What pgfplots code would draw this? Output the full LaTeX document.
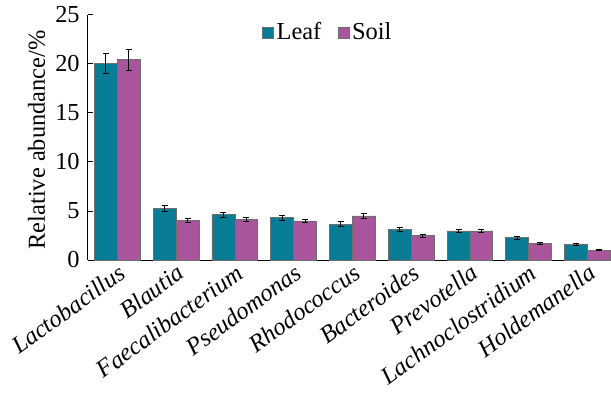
\documentclass[border=0pt]{standalone}
\usepackage{fontspec}
\setmainfont{Liberation Serif}
\usepackage{pgfplots}
\usepackage{pgfplotstable}
\pgfplotsset{compat=1.18}

\definecolor{leafc}{HTML}{087C94}
\definecolor{soilc}{HTML}{A9559E}
\definecolor{edgec}{HTML}{6E6E6E}

% genus index, mean relative abundance (%), standard error
\pgfplotstableread{
x   y      err
0   20.07  1.02
1   5.24   0.29
2   4.62   0.26
3   4.32   0.24
4   3.67   0.22
5   3.08   0.22
6   2.96   0.16
7   2.28   0.16
8   1.56   0.13
}\leafdata
\pgfplotstableread{
x   y      err
0   20.42  1.09
1   4.01   0.20
2   4.15   0.22
3   3.98   0.20
4   4.49   0.26
5   2.48   0.16
6   2.96   0.16
7   1.70   0.07
8   0.99   0.04
}\soildata

\begin{document}
\fontsize{24.5}{29}\rmfamily\selectfont
\begin{tikzpicture}
\useasboundingbox (-88bp,-134bp) rectangle (523bp,260bp);
\begin{axis}[
  at={(0,0)}, anchor=south west,
  scale only axis,
  width=523bp, height=245bp,
  xmin=-0.5, xmax=8.4,
  ymin=0, ymax=25,
  ytick={0,5,10,15,20,25},
  xtick={0,...,8},
  xticklabels={Lactobacillus,Blautia,Faecalibacterium,Pseudomonas,Rhodococcus,Bacteroides,Prevotella,Lachnoclostridium,Holdemanella},
  xticklabel style={rotate=36, anchor=north east, font=\rmfamily\itshape, inner sep=2bp},
  yticklabel style={font=\rmfamily},
  x tick style={draw=none},
  y tick style={black, line width=1bp},
  major tick length=5bp,
  tick align=inside,
  axis x line*=bottom,
  axis y line*=left,
  axis line style={black, line width=1bp},
  /pgf/number format/assume math mode=true,
  ylabel={Relative abundance/\%},
  ylabel style={at={(axis description cs:-0.0985,0.49)}, anchor=center, font=\rmfamily},
  clip=false,
  legend columns=2,
  legend style={at={(rel axis cs:0.333,0.927)}, anchor=west, draw=none, fill=none,
    inner sep=0pt, font=\rmfamily, nodes={inner xsep=2.5bp, inner ysep=0pt},
    /tikz/every even column/.append style={column sep=14bp}},
  legend image code/.code={\draw[#1, draw=edgec, line width=0.8bp] (0bp,-5.5bp) rectangle (11bp,5.5bp);},
  error bars/y dir=both,
  error bars/y explicit,
  error bars/error bar style={black, line width=1bp},
  error bars/error mark options={rotate=90, mark size=3bp, line width=1bp, black},
]
\addplot[ybar, bar width=0.39, bar shift=0pt, fill=leafc, draw=edgec, line width=0.8bp]
  table[x expr=\thisrow{x}-0.195, y=y, y error=err] {\leafdata};
\addlegendentry{Leaf}
\addplot[ybar, bar width=0.39, bar shift=0pt, fill=soilc, draw=edgec, line width=0.8bp]
  table[x expr=\thisrow{x}+0.195, y=y, y error=err] {\soildata};
\addlegendentry{Soil}
\end{axis}
\end{tikzpicture}
\end{document}
